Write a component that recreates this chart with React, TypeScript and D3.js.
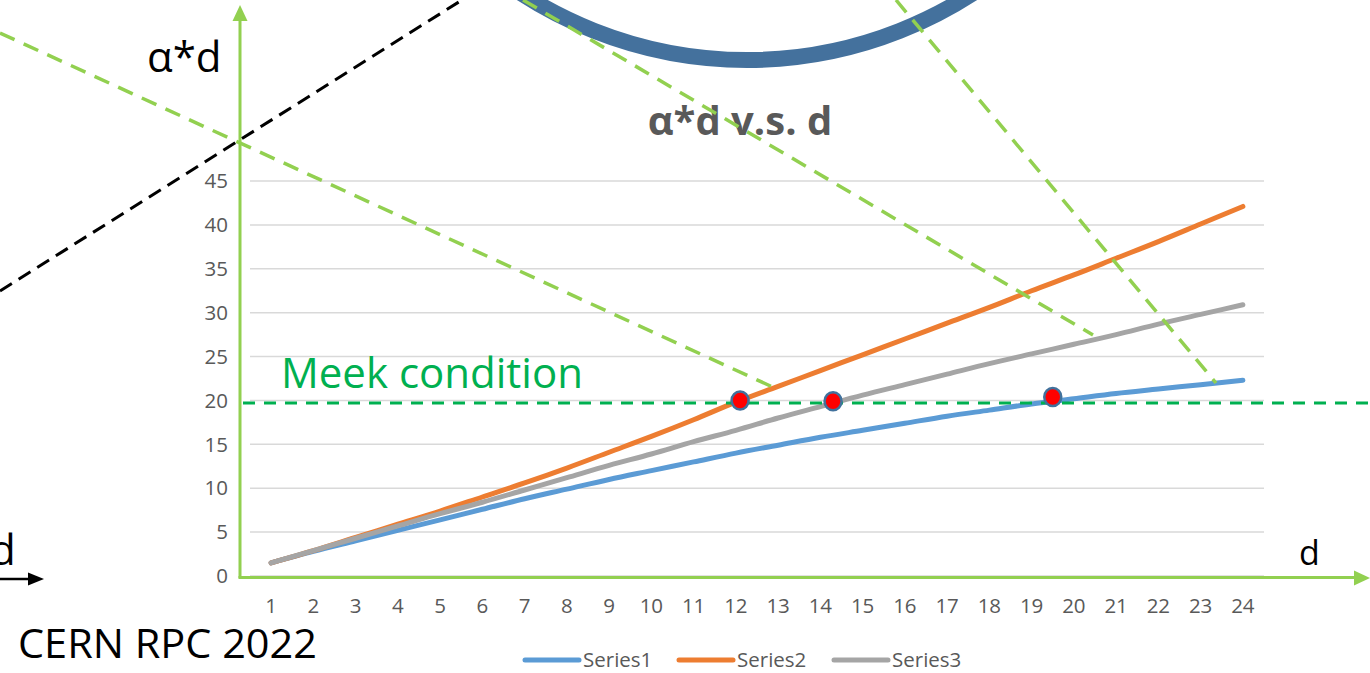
import * as d3 from 'd3'

// categories (d) and series values (alpha*d)
const categories = d3.range(1, 25)
const series1 = [1.5, 2.8, 4.0, 5.2, 6.4, 7.6, 8.8, 9.9, 11.0, 12.0, 13.0, 14.0, 14.9, 15.8, 16.6, 17.4, 18.2, 18.9, 19.6, 20.2, 20.8, 21.3, 21.8, 22.3]
const series2 = [1.5, 2.9, 4.4, 5.9, 7.4, 9.0, 10.6, 12.3, 14.1, 15.9, 17.8, 19.8, 21.6, 23.4, 25.2, 27.0, 28.8, 30.6, 32.5, 34.3, 36.2, 38.1, 40.1, 42.1]
const series3 = [1.5, 2.9, 4.3, 5.7, 7.1, 8.4, 9.8, 11.2, 12.6, 13.9, 15.3, 16.6, 18.0, 19.3, 20.6, 21.8, 23.0, 24.2, 25.3, 26.4, 27.5, 28.7, 29.8, 30.9]
const seriesNames = ['Series1', 'Series2', 'Series3']
const yTicks = [0, 5, 10, 15, 20, 25, 30, 35, 40, 45]

// crossings with the Meek condition (d, alpha*d)
const meekD = [12.1, 14.3, 19.5]
const meekV = [20.0, 19.9, 20.4]
const meekLevel = 19.7

const colors = ['#5B9BD5', '#ED7D31', '#A5A5A5']
const axisGreen = '#92D050'
const meekGreen = '#00B050'
const tickColor = '#595959'
const font = '"Open Sans", "Noto Sans", sans-serif'

export default function App() {
  const width = 1370
  const height = 673

  const x = d3.scaleLinear().domain([0.5, 24.5]).range([250, 1264])
  const y = d3.scaleLinear().domain([0, 45]).range([576, 181])

  const line = d3.line<number>()
    .x((_, i) => x(categories[i]))
    .y(d => y(d))
    .curve(d3.curveMonotoneX)

  const allSeries = [series1, series2, series3]

  // legend layout
  const legendX = [525, 679, 834]

  return (
    <svg width={width} height={height} style={{ position: 'absolute', left: 0, top: 0, display: 'block' }}
      fontFamily={font}>
      <rect width={width} height={height} fill="#fff" />

      {/* gridlines */}
      {yTicks.map(t => (
        <line key={t} x1={x.range()[0]} x2={x.range()[1]} y1={y(t)} y2={y(t)} stroke="#D9D9D9" strokeWidth={1.5} />
      ))}

      {/* y tick labels */}
      {yTicks.map(t => (
        <text key={t} x={228} y={y(t)} dy="0.35em" textAnchor="end" fontSize={20.5} fill={tickColor}>{t}</text>
      ))}

      {/* x tick labels */}
      {categories.map(c => (
        <text key={c} x={x(c)} y={613} textAnchor="middle" fontSize={20.5} fill={tickColor}>{c}</text>
      ))}

      {/* series */}
      {allSeries.map((s, i) => (
        <path key={i} d={line(s) ?? ''} fill="none" stroke={colors[i]} strokeWidth={5} strokeLinecap="round" strokeLinejoin="round" />
      ))}

      {/* legend */}
      {seriesNames.map((n, i) => (
        <g key={n}>
          <line x1={legendX[i]} x2={legendX[i] + 54} y1={660} y2={660} stroke={colors[i]} strokeWidth={5} strokeLinecap="round" />
          <text x={legendX[i] + 58} y={660} dy="0.35em" fontSize={20.5} fill={tickColor}>{n}</text>
        </g>
      ))}

      {/* Meek condition line */}
      <line x1={243} x2={width} y1={y(meekLevel)} y2={y(meekLevel)} stroke={meekGreen} strokeWidth={3} strokeDasharray="12 9" />
      <text x={281} y={388} fontSize={42} fill={meekGreen}>Meek condition</text>

      {/* crossing points */}
      {meekD.map((d, i) => (
        <ellipse key={i} cx={x(d)} cy={y(meekV[i])} rx={8.5} ry={9} fill="#FF0000" stroke="#41719C" strokeWidth={2.5} />
      ))}

      {/* axes with arrows */}
      <line x1={240} x2={240} y1={578} y2={18} stroke={axisGreen} strokeWidth={3} />
      <path d="M240,5 L232.5,21 L247.5,21 Z" fill={axisGreen} />
      <line x1={238.5} x2={1358} y1={577.5} y2={577.5} stroke={axisGreen} strokeWidth={3} />
      <path d="M1370,578 L1354,570.5 L1354,585.5 Z" fill={axisGreen} />

      <text x={147} y={72} fontSize={42} fill="#000">α*d</text>
      <text x={1299} y={565} fontSize={34} fill="#000">d</text>

      {/* title */}
      <text x={740} y={135} textAnchor="middle" fontSize={40} fontWeight="bold" fill={tickColor}>α*d v.s. d</text>

      {/* slide overlays */}
      <circle cx={747} cy={-355} r={415} fill="none" stroke="#44719D" strokeWidth={16} />
      <line x1={0} y1={291} x2={462} y2={0} stroke="#000" strokeWidth={3} strokeDasharray="14 8" />
      <line x1={0} y1={33} x2={777} y2={389} stroke={axisGreen} strokeWidth={3.5} strokeDasharray="16 10" />
      <line x1={523} y1={0} x2={1093} y2={335} stroke={axisGreen} strokeWidth={3.5} strokeDasharray="16 10" />
      <line x1={896} y1={0} x2={1216} y2={383} stroke={axisGreen} strokeWidth={3.5} strokeDasharray="16 10" />

      {/* left d arrow */}
      <text x={-10} y={565} fontSize={42} fill="#000">d</text>
      <line x1={0} x2={32} y1={579} y2={579} stroke="#000" strokeWidth={2.5} />
      <path d="M44,579 L28,572.5 L28,585.5 Z" fill="#000" />

      <text x={18} y={658} fontSize={40} textLength={299} lengthAdjust="spacingAndGlyphs" fill="#000">CERN RPC 2022</text>
    </svg>
  )
}
